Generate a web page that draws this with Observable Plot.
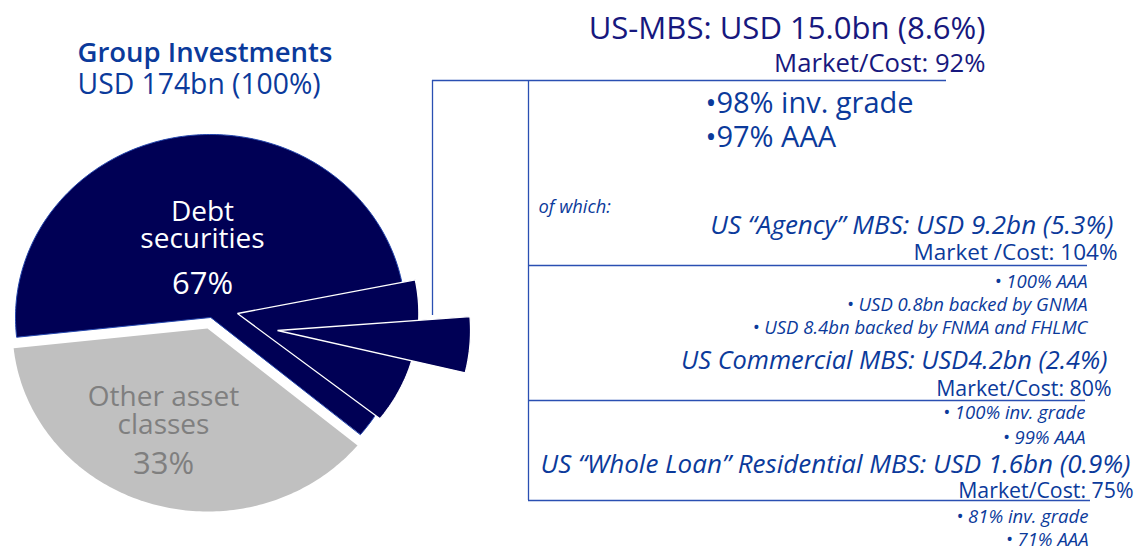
<!DOCTYPE html>
<html><head><meta charset="utf-8">
<script src="https://cdn.jsdelivr.net/npm/d3@7"></script>
<script src="https://cdn.jsdelivr.net/npm/@observablehq/plot@0.6"></script>
<style>html,body{margin:0;padding:0;background:#fff;} svg{display:block;}</style>
</head><body><div id="chart"></div>
<script>
// ---------- data ----------
const groupTitle = "Group Investments";
const groupTotalUSDbn = 174;
const groupTotalShare = 100;
const assetClasses = ["Debt securities", "Other asset classes"];
const assetClassLines = [["Debt", "securities"], ["Other asset", "classes"]];
const assetShares = [67, 33];
const mbsSegments = ["US-MBS", "US “Agency” MBS", "US Commercial MBS", "US “Whole Loan” Residential MBS"];
const mbsUSDbn = [15.0, 9.2, 4.2, 1.6];
const mbsShares = [8.6, 5.3, 2.4, 0.9];
const mbsMarketCost = [92, 104, 80, 75];
const mbsBullets = [
  ["98% inv. grade", "97% AAA"],
  ["100% AAA", "USD 0.8bn backed by GNMA", "USD 8.4bn backed by FNMA and FHLMC"],
  ["100% inv. grade", "99% AAA"],
  ["81% inv. grade", "71% AAA"]
];
// slice sweeps as drawn (degrees, clockwise from 3 o'clock)
const sliceNames = ["Debt securities", "Other asset classes", "US-MBS", "US “Agency” MBS"];
const sliceStartDeg = [-186.2, 39.7, -11.4, -4.4];
const sliceEndDeg = [39.7, 173.8, 38.2, 13.5];

// ---------- layout ----------
const W = 1141, H = 550;
const NAVY = "#000055", GREY = "#c0c0c0", BLUE = "#0b3a9b", DARK = "#17187e", LINE = "#2a4fb2";
const FONT = "'Open Sans', 'Noto Sans', sans-serif";
const pie = {cx: 210, cy: 317, rx: 195, ry: 183};
const sliceStyle = [
  {dx: 0, dy: 0, k: 1, fill: NAVY, stroke: "#2446ad", sw: 1},
  {dx: -3, dy: 11, k: 1, fill: GREY, stroke: "none", sw: 0},
  {dx: 27, dy: -4, k: 0.93, fill: NAVY, stroke: "#ffffff", sw: 1.3},
  {dx: 67, dy: 13, k: 0.99, fill: NAVY, stroke: "#ffffff", sw: 1.3}
];
function slicePoints(i) {
  const s = sliceStyle[i];
  const cx = pie.cx + s.dx, cy = pie.cy + s.dy;
  const a0 = sliceStartDeg[i], a1 = sliceEndDeg[i];
  const n = Math.max(2, Math.ceil(Math.abs(a1 - a0)));
  const pts = [{slice: sliceNames[i], x: cx, y: cy}];
  for (let j = 0; j <= n; j++) {
    const a = (a0 + (a1 - a0) * j / n) * Math.PI / 180;
    pts.push({slice: sliceNames[i], x: cx + s.k * pie.rx * Math.cos(a), y: cy + s.k * pie.ry * Math.sin(a)});
  }
  return pts;
}
const sliceMarks = sliceNames.map((_, i) => Plot.line(slicePoints(i), {
  x: "x", y: "y", curve: "linear-closed", fill: sliceStyle[i].fill,
  stroke: sliceStyle[i].stroke, strokeWidth: sliceStyle[i].sw, strokeLinejoin: "miter"
}));

function label(text, x, y, o = {}) {
  return Plot.text([text], {
    x: () => x, y: () => y, text: d => d, lineAnchor: "bottom",
    textAnchor: o.anchor || "start", fontSize: o.size || 18, fill: o.fill || BLUE,
    fontFamily: FONT, fontStyle: o.italic ? "italic" : "normal", fontWeight: o.weight || 400
  });
}

const usdSep = [" ", " ", "", " "];
const mcSep = ["", " ", "", ""];
const heads = mbsSegments.map((s, i) => `${s}: USD${usdSep[i]}${mbsUSDbn[i].toFixed(1)}bn (${mbsShares[i]}%)`);
const mcs = mbsSegments.map((s, i) => `Market${mcSep[i]}/Cost: ${mbsMarketCost[i]}%`);
const SMALL = 18.5;

const textMarks = [
  label(groupTitle, 77, 61, {size: 27.5, weight: 600}),
  label(`USD ${groupTotalUSDbn}bn (${groupTotalShare}%)`, 77, 93, {size: 28.3}),
  label(assetClassLines[0][0], 202, 220, {size: 28, anchor: "middle", fill: "#ffffff"}),
  label(assetClassLines[0][1], 202, 247, {size: 28, anchor: "middle", fill: "#ffffff"}),
  label(`${assetShares[0]}%`, 202, 293, {size: 31, anchor: "middle", fill: "#ffffff"}),
  label(assetClassLines[1][0], 163, 405, {size: 28, anchor: "middle", fill: "#7f7f7f"}),
  label(assetClassLines[1][1], 163, 433, {size: 28, anchor: "middle", fill: "#7f7f7f"}),
  label(`${assetShares[1]}%`, 163, 473, {size: 31, anchor: "middle", fill: "#7f7f7f"}),

  label(heads[0], 985, 38, {size: 31.1, anchor: "end", fill: DARK}),
  label(mcs[0], 985, 71, {size: 25.7, anchor: "end", fill: DARK}),
  label("•" + mbsBullets[0][0], 705, 112, {size: 29}),
  label("•" + mbsBullets[0][1], 705, 146, {size: 29}),

  label("of which:", 538, 212, {size: 18.3, italic: true}),
  label(heads[1], 1113, 233, {size: 26, anchor: "end", italic: true, weight: 500}),
  label(mcs[1], 1117, 259, {size: 22.5, anchor: "end"}),
  label("• " + mbsBullets[1][0], 1087, 287, {size: SMALL, anchor: "end", italic: true}),
  label("• " + mbsBullets[1][1], 1087, 310, {size: SMALL, anchor: "end", italic: true}),
  label("• " + mbsBullets[1][2], 1087, 333, {size: SMALL, anchor: "end", italic: true}),

  label(heads[2], 1107, 368, {size: 25.4, anchor: "end", italic: true, weight: 500}),
  label(mcs[2], 1111, 395, {size: 21.3, anchor: "end"}),
  label("• " + mbsBullets[2][0], 1085, 418, {size: SMALL, anchor: "end", italic: true}),
  label("• " + mbsBullets[2][1], 1085, 443, {size: SMALL, anchor: "end", italic: true}),

  label(heads[3], 1130, 472, {size: 26, anchor: "end", italic: true, weight: 500}),
  label(mcs[3], 1133, 497, {size: 21.3, anchor: "end"}),
  label("• " + mbsBullets[3][0], 1088, 522, {size: SMALL, anchor: "end", italic: true}),
  label("• " + mbsBullets[3][1], 1088, 545, {size: SMALL, anchor: "end", italic: true})
];

// connector / bracket lines
const hLines = [
  {x1: 432, x2: 946, y: 80},
  {x1: 528, x2: 1087, y: 265},
  {x1: 528, x2: 1085, y: 400},
  {x1: 528, x2: 1090, y: 500}
];
const vLines = [
  {x: 432, y1: 80, y2: 315},
  {x: 528, y1: 80, y2: 500}
];

const chart = Plot.plot({
  width: W, height: H,
  margin: 0,
  x: {domain: [0, W], range: [0, W], axis: null},
  y: {domain: [0, H], range: [0, H], axis: null},
  style: {background: "#fff", overflow: "visible"},
  marks: [
    ...sliceMarks,
    Plot.ruleY(hLines, {y: "y", x1: "x1", x2: "x2", stroke: LINE, strokeWidth: 1.3}),
    Plot.ruleX(vLines, {x: "x", y1: "y1", y2: "y2", stroke: LINE, strokeWidth: 1.3}),
    ...textMarks
  ]
});
document.getElementById("chart").appendChild(chart);
</script>
</body></html>
